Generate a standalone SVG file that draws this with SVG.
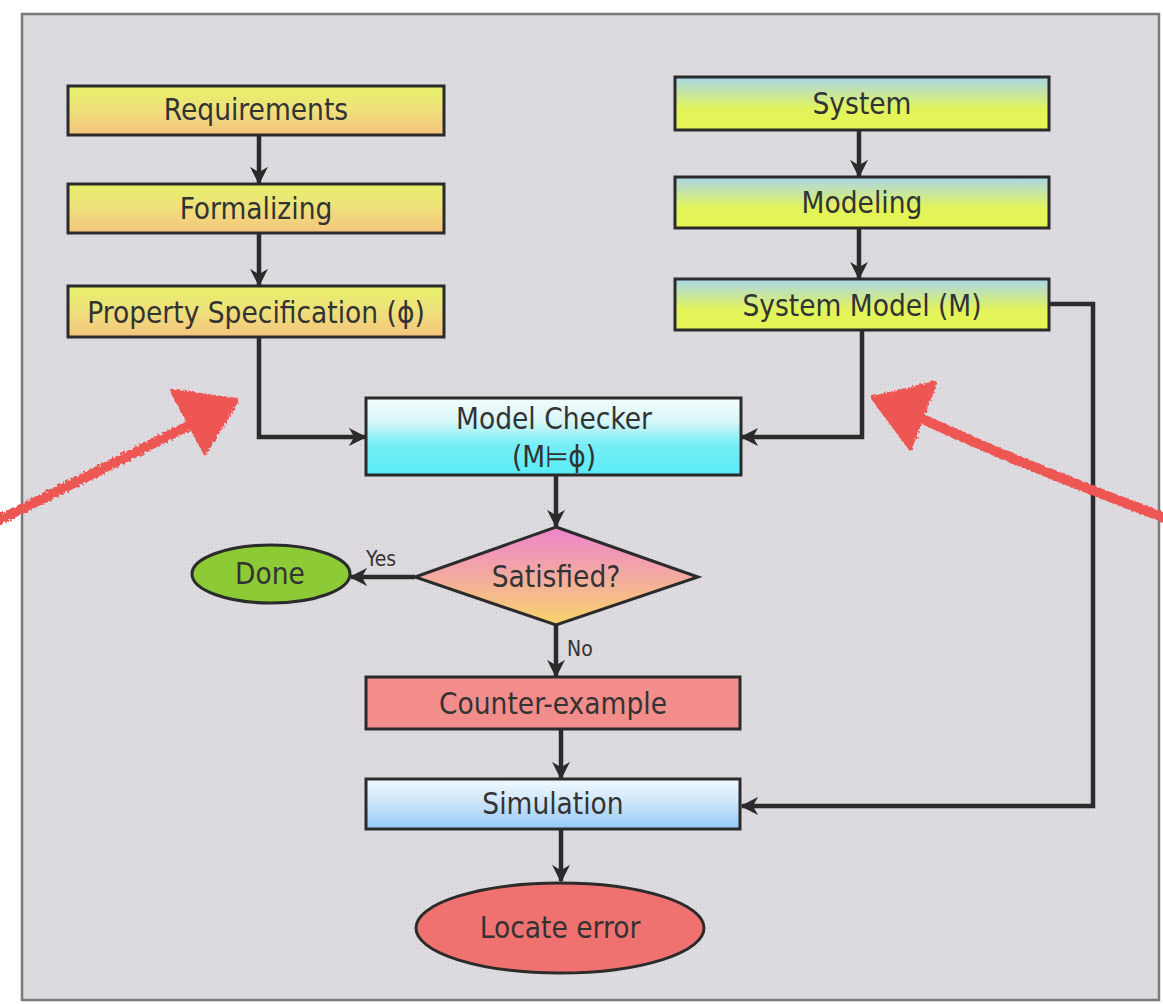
<svg xmlns="http://www.w3.org/2000/svg" width="1163" height="1004" viewBox="0 0 1163 1004">
  <style>
    .box { stroke: #2b2b2b; stroke-width: 3; }
    .lbl { font-family: "DejaVu Sans Condensed", "DejaVu Sans", Verdana, sans-serif; font-stretch: condensed; font-size: 29.5px; fill: #333; text-anchor: middle; }
    .small { font-family: "DejaVu Sans Condensed", "DejaVu Sans", Verdana, sans-serif; font-stretch: condensed; font-size: 21px; fill: #333; }
    .wire { fill: none; stroke: #2b2b2b; stroke-width: 4.5; }
    .mark { fill: none; stroke: #ee5752; stroke-width: 10; stroke-linecap: round; }
  </style>
  <defs>
    <linearGradient id="gReq" x1="0" y1="0" x2="0" y2="1">
      <stop offset="0" stop-color="#e6f06a"/>
      <stop offset="0.45" stop-color="#eee27a"/>
      <stop offset="1" stop-color="#f5c47e"/>
    </linearGradient>
    <linearGradient id="gSys" x1="0" y1="0" x2="0" y2="1">
      <stop offset="0" stop-color="#a9d6ea"/>
      <stop offset="0.6" stop-color="#e2f45c"/>
      <stop offset="1" stop-color="#e6f552"/>
    </linearGradient>
    <linearGradient id="gChk" x1="0" y1="0" x2="0" y2="1">
      <stop offset="0" stop-color="#f6fcfc"/>
      <stop offset="0.3" stop-color="#d8f6f8"/>
      <stop offset="0.6" stop-color="#78eef6"/>
      <stop offset="1" stop-color="#58ecf6"/>
    </linearGradient>
    <linearGradient id="gSat" x1="0" y1="0" x2="0" y2="1">
      <stop offset="0" stop-color="#ee84cc"/>
      <stop offset="0.5" stop-color="#f3aaa0"/>
      <stop offset="1" stop-color="#f8d46c"/>
    </linearGradient>
    <linearGradient id="gSim" x1="0" y1="0" x2="0" y2="1">
      <stop offset="0" stop-color="#f2f9ff"/>
      <stop offset="0.45" stop-color="#cfe6fb"/>
      <stop offset="1" stop-color="#94c8f6"/>
    </linearGradient>
    <pattern id="grain" width="4" height="4" patternUnits="userSpaceOnUse">
      <rect width="4" height="4" fill="#dddadf"/>
      <rect x="0" y="0" width="1" height="1" fill="#cfd0d6"/>
      <rect x="2" y="2" width="1" height="1" fill="#e6e2e6"/>
    </pattern>
    <marker id="tip" viewBox="0 0 10 10" refX="9" refY="5" markerWidth="4" markerHeight="4" orient="auto" markerUnits="strokeWidth">
      <path d="M0,0 L10,5 L0,10 L3,5 Z" fill="#2b2b2b"/>
    </marker>
    <filter id="rough" x="-10%" y="-10%" width="120%" height="120%">
      <feTurbulence type="fractalNoise" baseFrequency="0.35" numOctaves="2" seed="4"/>
      <feDisplacementMap in="SourceGraphic" scale="5"/>
    </filter>
  </defs>

  <!-- page and panel -->
  <rect x="0" y="0" width="1163" height="1004" fill="#ffffff"/>
  <rect x="22" y="14" width="1137" height="986" fill="url(#grain)" stroke="#7a7a7a" stroke-width="2.5"/>

  <!-- connectors -->
  <g id="connectors">
    <line class="wire" x1="259" y1="135" x2="259" y2="183" marker-end="url(#tip)"/>
    <line class="wire" x1="259" y1="233" x2="259" y2="285" marker-end="url(#tip)"/>
    <line class="wire" x1="859" y1="130" x2="859" y2="176" marker-end="url(#tip)"/>
    <line class="wire" x1="859" y1="228" x2="859" y2="278" marker-end="url(#tip)"/>
    <polyline class="wire" points="259,337 259,437 365,437" marker-end="url(#tip)"/>
    <polyline class="wire" points="862,330 862,437 742,437" marker-end="url(#tip)"/>
    <line class="wire" x1="556" y1="475" x2="556" y2="526" marker-end="url(#tip)"/>
    <line class="wire" x1="415" y1="577" x2="351" y2="577" marker-end="url(#tip)"/>
    <line class="wire" x1="556" y1="625" x2="556" y2="676" marker-end="url(#tip)"/>
    <line class="wire" x1="561" y1="729" x2="561" y2="778" marker-end="url(#tip)"/>
    <polyline class="wire" points="1049,304 1093,304 1093,806 742,806" marker-end="url(#tip)"/>
    <line class="wire" x1="561" y1="829" x2="561" y2="881" marker-end="url(#tip)"/>
    <text class="small" x="366" y="566">Yes</text>
    <text class="small" x="567" y="656">No</text>
  </g>

  <!-- nodes -->
  <g id="requirements">
    <rect class="box" x="68" y="86" width="376" height="49" fill="url(#gReq)"/>
    <text class="lbl" x="256" y="120">Requirements</text>
  </g>
  <g id="formalizing">
    <rect class="box" x="68" y="184" width="376" height="49" fill="url(#gReq)"/>
    <text class="lbl" x="256" y="219">Formalizing</text>
  </g>
  <g id="property-spec">
    <rect class="box" x="68" y="286" width="376" height="51" fill="url(#gReq)"/>
    <text class="lbl" x="256" y="323">Property Specification (ϕ)</text>
  </g>
  <g id="system">
    <rect class="box" x="675" y="77" width="374" height="53" fill="url(#gSys)"/>
    <text class="lbl" x="862" y="114">System</text>
  </g>
  <g id="modeling">
    <rect class="box" x="675" y="177" width="374" height="51" fill="url(#gSys)"/>
    <text class="lbl" x="862" y="213">Modeling</text>
  </g>
  <g id="system-model">
    <rect class="box" x="675" y="279" width="374" height="51" fill="url(#gSys)"/>
    <text class="lbl" x="862" y="316">System Model (M)</text>
  </g>
  <g id="model-checker">
    <rect class="box" x="366" y="398" width="375" height="77" fill="url(#gChk)"/>
    <text class="lbl" x="554" y="429">Model Checker</text>
    <text class="lbl" x="554" y="467">(M⊨ϕ)</text>
  </g>
  <g id="satisfied">
    <polygon class="box" points="556,527 698,577 556,625 415,577" fill="url(#gSat)"/>
    <text class="lbl" x="556" y="587">Satisfied?</text>
  </g>
  <g id="done">
    <ellipse class="box" cx="271" cy="574" rx="79" ry="29" fill="#8ccb36"/>
    <text class="lbl" x="270" y="584">Done</text>
  </g>
  <g id="counter-example">
    <rect class="box" x="366" y="677" width="374" height="52" fill="#f38d8b"/>
    <text class="lbl" x="553" y="714">Counter-example</text>
  </g>
  <g id="simulation">
    <rect class="box" x="366" y="779" width="374" height="50" fill="url(#gSim)"/>
    <text class="lbl" x="553" y="814">Simulation</text>
  </g>
  <g id="locate-error">
    <ellipse class="box" cx="560" cy="928" rx="144" ry="45" fill="#f07270"/>
    <text class="lbl" x="560" y="938">Locate error</text>
  </g>

  <!-- hand-drawn red pointers -->
  <g id="pointers" filter="url(#rough)">
    <path class="mark" d="M-5,522 C60,490 130,455 190,425"/>
    <polygon points="172,391 237,400 205,453" fill="#ee5752" stroke="#ee5752" stroke-width="4" stroke-linejoin="round"/>
    <path class="mark" d="M1170,520 C1090,490 1000,455 925,420"/>
    <polygon points="873,398 935,383 910,448" fill="#ee5752" stroke="#ee5752" stroke-width="4" stroke-linejoin="round"/>
  </g>
</svg>
